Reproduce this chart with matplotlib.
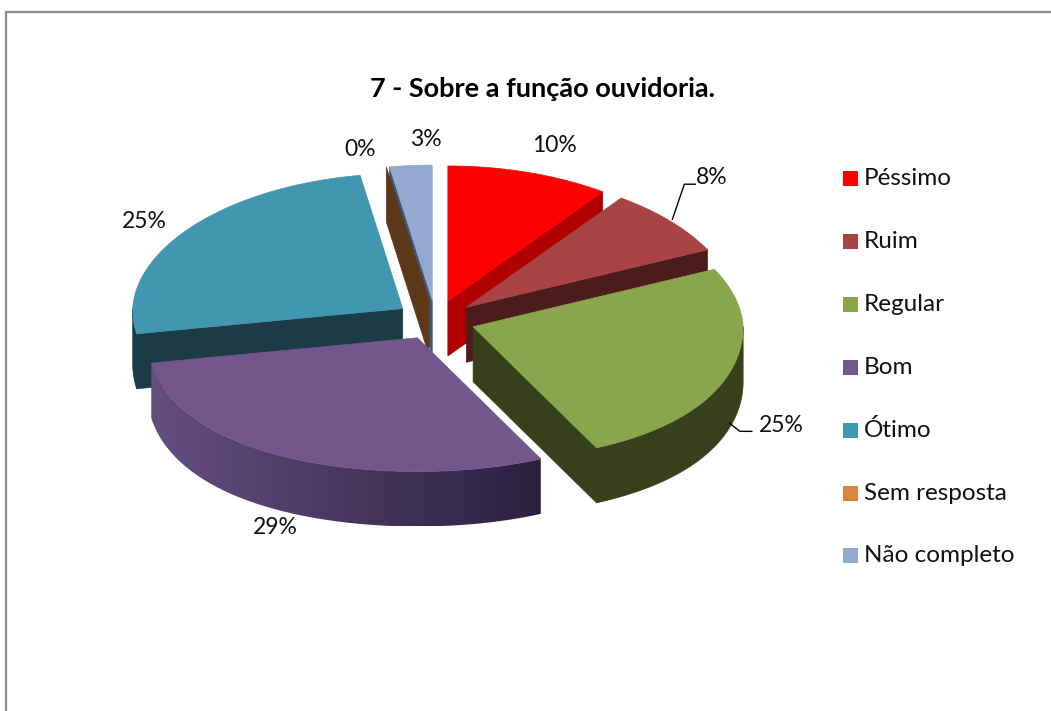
import numpy as np
import matplotlib
matplotlib.use('Agg')
import matplotlib.pyplot as plt
from matplotlib.patches import Polygon, Rectangle
from matplotlib.colors import LinearSegmentedColormap

# chart data
categories = ['Péssimo', 'Ruim', 'Regular', 'Bom', 'Ótimo', 'Sem resposta', 'Não completo']
values = [10, 8, 25, 29, 25.4, 0, 2.6]
labels = ['10%', '8%', '25%', '29%', '25%', '0%', '3%']

top_colors = ['#FF0000', '#A84544', '#8AA64D', '#72568C', '#4297B0', '#DB843D', '#93A9CF']
wall_left = ['#B00000', '#4C1C1C', '#37401B', '#654E80', '#1B3C47', '#5C3718', '#45556E']
wall_right = ['#B00000', '#4C1C1C', '#37401B', '#2A2140', '#1B3C47', '#5C3718', '#45556E']

# pie geometry in pixels
cx, cy = 435.5, 320
rx, ry = 270, 135
explode = 40
depth = 55
start_angle = 90

plt.rcParams['font.family'] = ['Lato', 'DejaVu Sans']
fig = plt.figure(figsize=(10.51, 7.11), dpi=100)
ax = fig.add_axes([0, 0, 1, 1])
ax.axis('off')

# chart frame, only top and left show in the crop
ax.plot([5.5, 5.5, 1051], [711, 11.5, 11.5], color='#8C8C8C', lw=1.6, solid_joinstyle='miter')


def rim(apex, angle):
    # front of the pie looks a bit wider than the back, like the 3d view in the original
    a = np.radians(angle)
    s = np.sin(a)
    front = np.maximum(0, -s)
    fx = 1 + 0.09 * front ** 2 - 0.03 * np.maximum(0, s)
    fy = 1 - 0.01 * front
    return apex[0] + rx * fx * np.cos(a), apex[1] - ry * fy * s


def face(pts, color, z):
    ax.add_patch(Polygon(pts, closed=True, facecolor=color, edgecolor=color, lw=0.5, zorder=z))


# work out each slice from the values
slices = []
a = start_angle
for i, v in enumerate(values):
    a2 = a - v * 3.6
    mid = np.radians((a + a2) / 2)
    apex = (cx + explode * np.cos(mid), cy - explode * ry / rx * np.sin(mid))
    slices.append({'a1': a, 'a2': a2, 'apex': apex, 'i': i})
    a = a2

# painter's order, back to front
order = [4, 6, 5, 0, 1, 2, 3]
for z, idx in enumerate(order):
    s = slices[idx]
    apex = s['apex']
    a1, a2 = s['a1'], s['a2']
    i = s['i']
    base = 10 + z * 10

    # radial faces that look towards the viewer
    for edge, normal in ((a1, a1 + 90), (a2, a2 - 90)):
        if np.sin(np.radians(normal)) < -0.01:
            x, y = rim(apex, edge)
            face([apex, (x, y), (x, y + depth), (apex[0], apex[1] + depth)], wall_left[i], base)

    if a1 == a2:
        continue

    # curved wall, only the part in front
    angles = np.linspace(a1, a2, 300)
    angles = angles[np.sin(np.radians(angles)) < 0]
    if len(angles) > 1:
        xs, ys = rim(apex, angles)
        pts = list(zip(xs, ys)) + list(zip(xs[::-1], ys[::-1] + depth))
        if wall_left[i] == wall_right[i]:
            face(pts, wall_left[i], base + 1)
        else:
            # left to right shading, clipped to the wall
            cmap = LinearSegmentedColormap.from_list('wall', [wall_left[i], wall_right[i]])
            im = ax.imshow(np.linspace(0, 1, 256).reshape(1, -1), cmap=cmap, aspect='auto',
                           extent=(xs.min(), xs.max(), ys.max() + depth, ys.min()), zorder=base + 1)
            im.set_clip_path(Polygon(pts, closed=True, transform=ax.transData))

    # top of the slice
    xs, ys = rim(apex, np.linspace(a1, a2, 300))
    face([apex] + list(zip(xs, ys)), top_colors[i], base + 2)

ax.set_xlim(0, 1051)
ax.set_ylim(711, 0)

# data labels
label_pos = [(554, 145), (712, 178), (781, 425), (275, 528), (144, 221), (360, 150), (426, 140)]
for lab, pos in zip(labels, label_pos):
    ax.text(pos[0], pos[1], lab, ha='center', va='center', fontsize=16.5, color='#111111', zorder=200)

# leader lines start on the slice they belong to
s = slices[1]
x, y = rim(s['apex'], (s['a1'] + s['a2']) / 2)
ax.plot([x + 2, x + 14, x + 25], [y - 2, y - 37, y - 37], color='black', lw=1, zorder=150)
s = slices[2]
x, y = rim(s['apex'], (s['a1'] + s['a2']) / 2)
ax.plot([x, x + 10, x + 22], [y + depth - 4, y + depth + 4, y + depth + 4], color='black', lw=1, zorder=150)

# title
ax.text(542, 89, '7 - Sobre a função ouvidoria.', ha='center', va='center', fontsize=19.5,
        fontweight='bold', color='black', zorder=200)

# legend
for i, cat in enumerate(categories):
    y = 178.5 + 62.9 * i
    ax.add_patch(Rectangle((843, y - 7.5), 15, 15, facecolor=top_colors[i], edgecolor='none', zorder=200))
    ax.text(864, y, cat, ha='left', va='center', fontsize=17.5, color='#111111', zorder=200)

fig.savefig('out.png', dpi=100)
